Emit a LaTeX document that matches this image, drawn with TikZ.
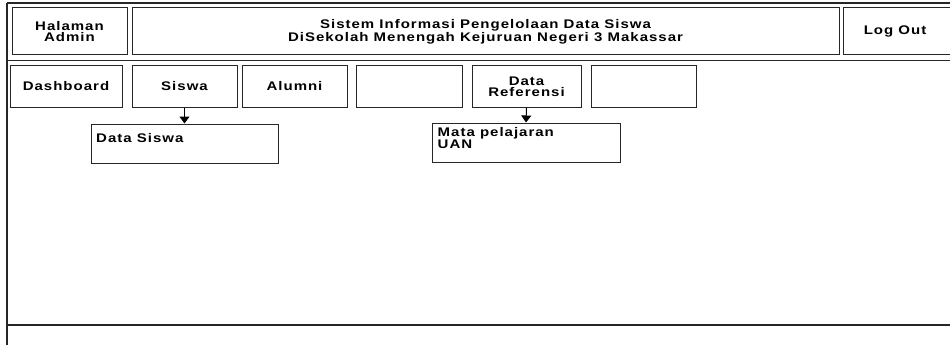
\documentclass[tikz,border=0pt]{standalone}
\usepackage{fontspec}
\setmainfont[FakeStretch=1.2,LetterSpace=8]{Liberation Sans}
\usetikzlibrary{arrows.meta}
\begin{document}
\begin{tikzpicture}[x=1pt,y=-1pt,
  frame/.style={draw=black!85,line width=1.4pt},
  boxfont/.style={font=\bfseries\fontsize{12.5}{11}\selectfont},
  box/.style={draw=black!85,line width=1pt,rectangle,inner sep=0pt,boxfont,align=center},
  conn/.style={draw=black,line width=1pt,-{Triangle[width=10pt,length=7pt]}}]
\useasboundingbox (0,0) rectangle (950,345);
\begin{scope}
\clip (0,0) rectangle (950,345);
% outer frame
\draw[frame] (7,3) -- (960,3);
\draw[frame] (7,3) -- (7,350);
\draw[frame] (7,60.5) -- (960,60.5);
\draw[frame] (7,325) -- (960,325);
% header
\node[box,minimum width=115,minimum height=47] (admin) at (69.5,31.5) {Halaman\\Admin};
\node[box,minimum width=707,minimum height=47] (title) at (485.5,31.5) {Sistem Informasi Pengelolaan Data Siswa\\DiSekolah Menengah Kejuruan Negeri 3 Makassar};
\node[box,minimum width=120,minimum height=47,anchor=west] (logout) at (843,31.5) {\hspace*{-17pt}Log Out};
% menu
\node[box,minimum width=112,minimum height=41] (dash) at (66,86.5) {Dashboard};
\node[box,minimum width=105,minimum height=41] (siswa) at (184.5,86.5) {Siswa};
\node[box,minimum width=105,minimum height=41] (alumni) at (294.5,86.5) {Alumni};
\node[box,minimum width=106,minimum height=41] (empty1) at (409,86.5) {};
\node[box,minimum width=109,minimum height=41] (dataref) at (526.5,86.5) {Data\\Referensi};
\node[box,minimum width=105,minimum height=41] (empty2) at (643.5,86.5) {};
% submenus
\node[box,minimum width=187,minimum height=39,
  label={[anchor=north west,inner sep=0pt,boxfont,xshift=5.5pt,yshift=-10pt]north west:Data Siswa}] (datasiswa) at (184.5,143.5) {};
\node[box,minimum width=188,minimum height=39,
  label={[anchor=north west,inner sep=0pt,boxfont,align=left,xshift=6pt,yshift=-4.5pt]north west:Mata pelajaran\\UAN}] (mapel) at (526,142.5) {};
\draw[conn] (siswa.south) -- (datasiswa.north);
\draw[conn] (dataref.south) -- (mapel.north);
\end{scope}
\end{tikzpicture}
\end{document}
